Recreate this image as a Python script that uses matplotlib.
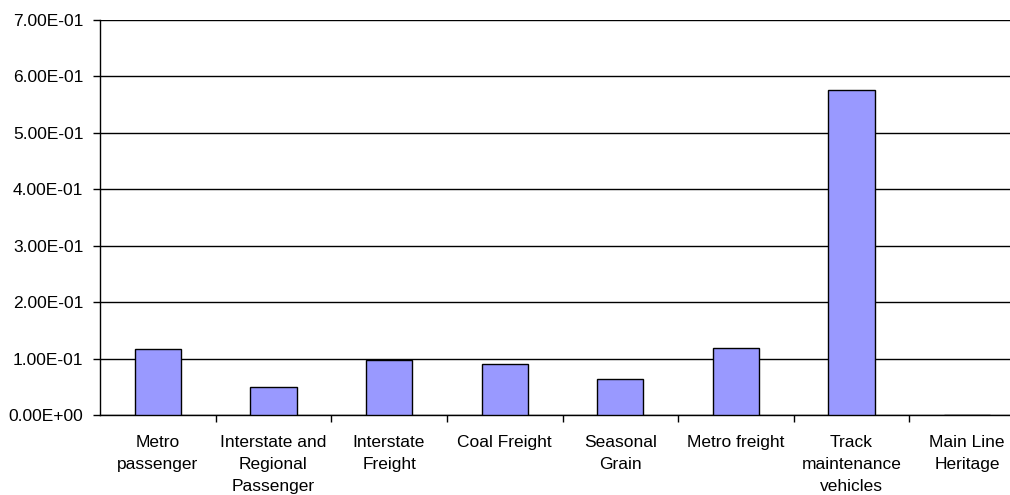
import matplotlib
matplotlib.use("Agg")
import matplotlib.pyplot as plt
import numpy as np
from matplotlib.ticker import FixedLocator, FuncFormatter

categories = ["Metro\npassenger", "Interstate and\nRegional\nPassenger", "Interstate\nFreight",
              "Coal Freight", "Seasonal\nGrain", "Metro freight", "Track\nmaintenance\nvehicles",
              "Main Line\nHeritage"]
values = [0.117, 0.0505, 0.098, 0.091, 0.064, 0.120, 0.576, 0.0]
y_ticks = [0.0, 0.1, 0.2, 0.3, 0.4, 0.5, 0.6, 0.7]

plt.rcParams["font.family"] = ["Liberation Sans", "DejaVu Sans"]

fig = plt.figure(figsize=(10.10, 4.95), dpi=100)
W, H = 1010, 495
ax = fig.add_axes([100 / W, (H - 415.3) / H, 925 / W, (415.3 - 20) / H])

x = np.arange(len(categories))
ax.bar(x, values, width=0.4, color="#9999FF", edgecolor="black", linewidth=1.0, zorder=3)

ax.set_xlim(-0.5, len(categories) - 0.5)
ax.set_ylim(0, 0.7)
ax.yaxis.set_major_locator(FixedLocator(y_ticks))
ax.yaxis.set_major_formatter(FuncFormatter(lambda v, p: f"{v:.2E}"))
ax.grid(axis="y", color="black", linewidth=1.0, zorder=0)

ax.set_xticks(x)
ax.set_xticklabels(categories, fontsize=12.5, linespacing=1.6)
ax.tick_params(axis="x", which="major", length=0, pad=14)
ax.set_xticks(np.arange(len(categories)) + 0.5, minor=True)
ax.tick_params(axis="x", which="minor", length=5, width=1, color="black", direction="out")
ax.tick_params(axis="y", length=5, width=1, color="black", direction="out", labelsize=12.5, pad=7)

for side in ["top", "right"]:
    ax.spines[side].set_visible(False)
ax.spines["left"].set_linewidth(1.0)
ax.spines["bottom"].set_linewidth(1.0)

fig.savefig("out.png", dpi=100)
